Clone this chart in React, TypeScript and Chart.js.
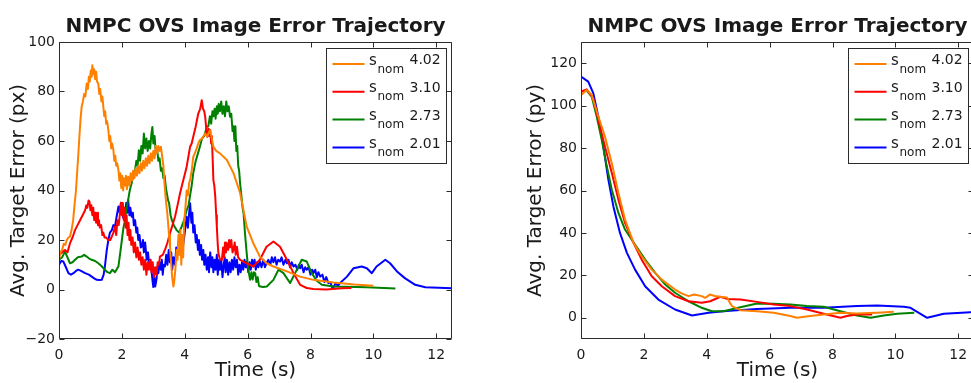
import React, { useEffect, useRef } from "react";
import { Chart, registerables } from "chart.js";

Chart.register(...registerables);

// ---------- tick labels ----------
const xTicks = [0, 2, 4, 6, 8, 10, 12];
const pxYTicks = [-20, 0, 20, 40, 60, 80, 100];
const pyYTicks = [0, 20, 40, 60, 80, 100, 120];

// ---------- legend ----------
const legendValues = ["4.02", "3.10", "2.73", "2.01"];
const seriesColors = ["#ff8000", "#ff0000", "#008000", "#0000ff"];

// ---------- left panel: error in px ----------
const pxOrangeT = [0, 0.05, 0.1, 0.15, 0.2, 0.25, 0.3, 0.35, 0.4, 0.45, 0.5, 0.54, 0.58, 0.61, 0.65, 0.68, 0.72, 0.76, 0.8, 0.84, 0.88, 0.92, 0.95, 0.98, 1.01, 1.04, 1.06, 1.09, 1.12, 1.15, 1.18, 1.21, 1.25, 1.28, 1.31, 1.35, 1.38, 1.41, 1.44, 1.47, 1.5, 1.53, 1.57, 1.6, 1.63, 1.66, 1.69, 1.73, 1.76, 1.79, 1.82, 1.85, 1.89, 1.92, 1.95, 1.98, 2.01, 2.04, 2.07, 2.1, 2.13, 2.16, 2.2, 2.24, 2.28, 2.32, 2.36, 2.4, 2.44, 2.48, 2.52, 2.56, 2.6, 2.64, 2.68, 2.72, 2.76, 2.8, 2.84, 2.88, 2.92, 2.96, 3.0, 3.04, 3.08, 3.12, 3.16, 3.2, 3.24, 3.28, 3.32, 3.36, 3.4, 3.45, 3.5, 3.53, 3.57, 3.6, 3.64, 3.67, 3.7, 3.74, 3.77, 3.8, 3.83, 3.86, 3.89, 3.92, 3.95, 3.98, 4.02, 4.06, 4.1, 4.14, 4.18, 4.22, 4.27, 4.32, 4.38, 4.43, 4.48, 4.55, 4.65, 4.72, 4.8, 4.86, 4.91, 5.0, 5.12, 5.34, 5.55, 5.76, 5.97, 6.18, 6.39, 6.6, 6.82, 7.25, 7.67, 8.09, 8.73, 9.4, 10.0];
const pxOrangeV = [12, 15, 16, 18.5, 18, 20, 21, 21.4, 24, 28, 35, 40, 48, 53.6, 62, 68, 73.8, 76, 79, 78, 83.2, 81, 86, 84, 88.5, 86, 90.6, 87, 89, 85, 88, 84, 83.3, 79, 81, 76, 78, 73.8, 70, 72, 67, 68, 64.4, 60, 62, 57, 59, 56.3, 52, 54, 50, 51, 48.3, 44, 47, 41, 46, 40, 45, 42, 46, 40.5, 45.6, 42, 47, 44, 48, 45, 49, 46, 50, 47, 51, 48, 52, 49, 53, 50, 54, 51, 55, 52, 56, 53, 58, 55, 58, 56, 57.7, 54, 50, 42, 36, 30, 22, 17.3, 10, 5, 1.2, 4, 8, 16, 12, 22, 14, 24, 10, 22, 13, 27, 33, 40, 38, 43, 45, 48, 53.6, 55, 57, 59, 60.4, 61, 63, 62, 64.4, 61, 57.7, 56, 55, 52.3, 47, 39, 25.4, 18.7, 13.3, 10.6, 9.3, 7.3, 5.2, 3.9, 2.8, 2.0, 1.5];

const pxRedT = [0, 0.1, 0.19, 0.27, 0.35, 0.43, 0.51, 0.59, 0.67, 0.75, 0.83, 0.87, 0.9, 0.94, 0.97, 1.0, 1.03, 1.06, 1.09, 1.12, 1.15, 1.18, 1.21, 1.24, 1.27, 1.3, 1.34, 1.38, 1.41, 1.45, 1.5, 1.57, 1.63, 1.68, 1.73, 1.78, 1.82, 1.86, 1.9, 1.94, 1.97, 2.0, 2.03, 2.06, 2.09, 2.12, 2.15, 2.18, 2.21, 2.24, 2.27, 2.3, 2.34, 2.38, 2.42, 2.46, 2.5, 2.54, 2.58, 2.62, 2.66, 2.7, 2.74, 2.78, 2.82, 2.86, 2.9, 2.94, 2.98, 3.02, 3.06, 3.1, 3.14, 3.18, 3.21, 3.3, 3.37, 3.45, 3.53, 3.61, 3.69, 3.77, 3.85, 3.93, 4.01, 4.06, 4.12, 4.17, 4.22, 4.27, 4.35, 4.43, 4.49, 4.54, 4.58, 4.62, 4.65, 4.69, 4.72, 4.76, 4.79, 4.81, 4.84, 4.86, 4.89, 4.91, 4.94, 4.97, 5.0, 5.02, 5.05, 5.07, 5.12, 5.18, 5.22, 5.25, 5.28, 5.31, 5.34, 5.38, 5.41, 5.44, 5.48, 5.52, 5.55, 5.59, 5.62, 5.66, 5.7, 5.76, 5.97, 6.18, 6.39, 6.6, 6.82, 7.03, 7.25, 7.46, 7.67, 7.88, 8.09, 8.5, 9.0, 9.3];
const pxRedV = [14, 15, 16, 15, 18.7, 21, 24, 26, 28, 30, 32, 34, 33, 36, 35.5, 32, 34, 30, 33, 28, 31, 27, 31, 26, 28, 25, 26, 22, 23, 21, 21, 20, 20, 21.4, 23, 25.4, 22, 28, 26, 31, 35, 30, 35, 28, 33, 25, 30, 22, 27, 20, 24, 18, 21, 15, 19, 13, 17, 12, 15, 10, 13, 8, 12, 6, 11, 8, 12, 7, 11, 5, 9, 6, 11, 10, 13.3, 14, 16, 19, 22.7, 26, 29.4, 34, 38.9, 43, 47, 49.6, 54, 57.7, 59, 61.7, 66, 71.1, 73, 76.5, 73, 72, 69.8, 64, 61.7, 65, 62, 64.4, 59, 62, 52, 44.2, 42, 37.5, 30, 25.4, 18, 14.7, 12, 12, 17, 13, 19, 15, 18.7, 16, 20, 17, 20, 15, 16, 19, 14, 17.3, 13, 12, 10.6, 9.3, 12, 17.3, 19.4, 17.3, 12, 6.6, 1.9, 0.6, 0.2, 0.0, 0.5, 0.6];

const pxGreenT = [0, 0.1, 0.19, 0.27, 0.35, 0.43, 0.51, 0.6, 0.72, 0.8, 0.88, 0.96, 1.04, 1.15, 1.25, 1.35, 1.46, 1.54, 1.62, 1.7, 1.78, 1.85, 1.89, 1.95, 2.0, 2.05, 2.1, 2.15, 2.2, 2.25, 2.31, 2.36, 2.42, 2.46, 2.5, 2.54, 2.58, 2.62, 2.66, 2.7, 2.74, 2.78, 2.82, 2.86, 2.9, 2.94, 2.97, 3.0, 3.04, 3.08, 3.12, 3.16, 3.2, 3.24, 3.28, 3.32, 3.36, 3.4, 3.43, 3.47, 3.5, 3.55, 3.59, 3.65, 3.74, 3.82, 3.9, 3.98, 4.06, 4.12, 4.17, 4.22, 4.27, 4.35, 4.42, 4.48, 4.55, 4.62, 4.7, 4.75, 4.8, 4.84, 4.88, 4.91, 4.95, 4.98, 5.02, 5.05, 5.08, 5.12, 5.16, 5.2, 5.24, 5.28, 5.32, 5.36, 5.4, 5.44, 5.48, 5.52, 5.55, 5.58, 5.61, 5.64, 5.67, 5.7, 5.73, 5.76, 5.8, 5.84, 5.87, 5.92, 5.97, 6.02, 6.08, 6.12, 6.16, 6.2, 6.24, 6.28, 6.32, 6.36, 6.4, 6.5, 6.61, 6.82, 6.98, 7.14, 7.35, 7.51, 7.72, 7.88, 8.04, 8.2, 8.36, 8.73, 9.79, 10.7];
const pxGreenV = [12, 13, 15.3, 13, 10.6, 11, 12, 13, 13.3, 14, 13.3, 12.5, 12, 11.5, 10.6, 9.5, 8, 7, 6.6, 8, 7, 8.5, 9.3, 15, 20, 25, 28, 33, 36.2, 40, 42.9, 46, 48.3, 52, 50, 56.3, 52, 58, 55, 63, 57, 61, 56, 60, 57, 63, 65.7, 59, 62, 55, 57, 52, 53, 48, 49, 45, 46, 41, 38.9, 36, 35, 30, 28, 26, 24, 23, 25.4, 28, 32, 34, 38, 42, 47, 52, 55, 57.7, 61, 62, 65.7, 66, 70, 67, 72, 70, 73, 69, 74, 71, 75, 72, 76, 71, 74, 70, 76, 72, 74, 69.8, 71, 64, 66, 60, 66, 56, 58, 50, 48, 42.9, 38, 33, 30.8, 22, 14.7, 8, 3.9, 7, 4, 7, 6.6, 3, 5, 1.5, 1.2, 1, 1.2, 3.9, 8, 6.6, 2.6, 6.6, 12, 11.3, 6.6, 3.5, 1.9, 1.2, 0.9, 0.4];

const pxBlueT = [0, 0.07, 0.14, 0.22, 0.3, 0.38, 0.46, 0.54, 0.61, 0.7, 0.83, 0.95, 1.04, 1.12, 1.2, 1.28, 1.36, 1.42, 1.46, 1.52, 1.57, 1.62, 1.68, 1.73, 1.78, 1.84, 1.89, 1.93, 1.97, 2.0, 2.04, 2.07, 2.1, 2.14, 2.17, 2.2, 2.24, 2.27, 2.31, 2.35, 2.38, 2.42, 2.46, 2.49, 2.52, 2.56, 2.6, 2.63, 2.67, 2.7, 2.74, 2.79, 2.83, 2.87, 2.91, 2.95, 2.98, 3.0, 3.03, 3.06, 3.1, 3.13, 3.16, 3.2, 3.24, 3.27, 3.3, 3.33, 3.37, 3.41, 3.45, 3.49, 3.53, 3.57, 3.6, 3.64, 3.69, 3.73, 3.77, 3.81, 3.85, 3.9, 3.95, 4.01, 4.06, 4.1, 4.14, 4.17, 4.21, 4.24, 4.27, 4.31, 4.35, 4.38, 4.42, 4.45, 4.48, 4.52, 4.55, 4.59, 4.62, 4.66, 4.7, 4.74, 4.77, 4.81, 4.85, 4.88, 4.91, 4.95, 4.98, 5.02, 5.05, 5.09, 5.12, 5.16, 5.2, 5.23, 5.27, 5.3, 5.34, 5.38, 5.42, 5.46, 5.5, 5.54, 5.58, 5.62, 5.66, 5.7, 5.74, 5.78, 5.82, 5.86, 5.9, 5.94, 5.97, 6.02, 6.06, 6.1, 6.14, 6.18, 6.22, 6.26, 6.3, 6.34, 6.39, 6.44, 6.5, 6.55, 6.6, 6.66, 6.72, 6.77, 6.82, 6.87, 6.92, 6.97, 7.03, 7.08, 7.14, 7.2, 7.25, 7.3, 7.35, 7.4, 7.46, 7.52, 7.58, 7.63, 7.67, 7.72, 7.78, 7.83, 7.88, 7.94, 8.0, 8.05, 8.09, 8.15, 8.2, 8.25, 8.31, 8.38, 8.44, 8.5, 8.57, 8.63, 8.68, 8.73, 8.8, 8.87, 8.94, 9.16, 9.37, 9.63, 9.79, 9.95, 10.1, 10.38, 10.53, 10.75, 11.0, 11.33, 11.65, 12.5];
const pxBlueV = [10, 11.5, 11.3, 9, 6.6, 6, 6.6, 7.5, 8, 7.5, 6.6, 6, 5.2, 4.5, 3.9, 3.8, 3.9, 6, 9.3, 16, 20, 23, 24, 26, 25.4, 30, 33.5, 31, 35, 34.8, 29, 33, 30.8, 35, 31, 36.2, 30, 33, 29.4, 31, 26, 28, 23, 25, 20, 22, 17, 17.3, 20, 15, 19, 12, 15, 10, 12, 6.6, 3, 1, 5, 1.2, 4, 9, 6.6, 11, 8, 12, 6, 10, 9.3, 14, 10, 16, 11, 15, 8, 13, 10, 17, 14, 20, 16, 22, 18, 24, 29.4, 25, 31, 34.8, 27, 31, 23, 26, 19, 22, 16, 20, 14, 18, 12, 16, 10, 14, 8, 13, 7, 15, 9, 13, 7, 12, 8, 14, 6, 12, 8, 12, 5, 9, 13, 7, 12, 6, 11, 7, 12, 8, 13, 9, 12, 6, 10, 7, 11, 8, 12, 9, 11.3, 7, 11, 8, 12, 9.3, 12, 8, 11, 9, 11.3, 9, 12, 9, 10.6, 12, 10, 13, 11, 13, 10, 12, 11.3, 13, 10, 12, 10.6, 12, 9, 11, 9.3, 10, 8, 10, 8.6, 10, 7, 9, 8, 9, 6, 8, 6.6, 8, 5, 7, 5.2, 6, 3, 5, 2.6, 3, 1, 0.9, 2.5, 1.5, 2.6, 5.2, 8.6, 9.3, 8.6, 6.6, 9.3, 12, 10.6, 7.3, 4.6, 1.9, 0.9, 0.5];

// ---------- right panel: error in py ----------
const pyOrangeT = [0, 0.18, 0.34, 0.55, 0.76, 0.98, 1.19, 1.4, 1.67, 1.93, 2.25, 2.57, 2.99, 3.2, 3.42, 3.6, 3.84, 3.95, 4.11, 4.25, 4.43, 4.64, 4.8, 5.07, 5.6, 6.13, 6.66, 6.87, 7.29, 7.72, 8.25, 8.78, 9.42, 9.95];
const pyOrangeV = [105, 107.4, 105.1, 94.9, 85.5, 72.9, 58.8, 46.3, 35.3, 29, 22.7, 18, 13.3, 11.5, 10.2, 11, 10.2, 9.4, 11, 10.3, 9.9, 9.6, 5.5, 3.6, 3.1, 2.4, 0.8, 0, 0.8, 1.6, 2.4, 2.0, 2.4, 2.8];

const pyRedT = [0, 0.18, 0.39, 0.55, 0.76, 0.98, 1.19, 1.4, 1.67, 1.93, 2.25, 2.57, 2.99, 3.42, 3.84, 4.11, 4.43, 4.64, 5.07, 5.6, 6.13, 6.66, 7.19, 7.72, 8.25, 8.46, 8.78, 9.26];
const pyRedV = [106.6, 107.7, 103.5, 93.3, 80.8, 68.2, 55.7, 44.7, 35.3, 27.4, 19.6, 14.9, 10.2, 7.8, 7.1, 7.8, 9.9, 8.9, 8.6, 7.5, 6.3, 5.5, 3.9, 1.9, 0, 0.8, 1.6, 1.6];

const pyGreenT = [0, 0.18, 0.34, 0.5, 0.66, 0.82, 0.98, 1.19, 1.4, 1.61, 1.83, 2.04, 2.36, 2.68, 2.99, 3.42, 3.84, 4.16, 4.53, 5.07, 5.6, 6.13, 6.66, 7.19, 7.72, 8.25, 8.78, 9.21, 9.63, 10.06, 10.6];
const pyGreenV = [106.6, 107.1, 104.3, 94.9, 83.9, 71.4, 60.4, 49.4, 41.6, 36.9, 32.1, 27.4, 21.2, 15.7, 11.8, 7.8, 4.7, 3.1, 3.1, 5.0, 6.7, 6.6, 6.3, 5.5, 5.2, 3.1, 1.1, 0, 1.1, 1.9, 2.4];

const pyBlueT = [0, 0.23, 0.39, 0.55, 0.71, 0.87, 1.03, 1.24, 1.46, 1.72, 2.04, 2.46, 2.99, 3.53, 4.06, 4.53, 5.6, 6.66, 7.72, 8.78, 9.42, 10.27, 10.48, 11.01, 11.54, 12.39, 12.6];
const pyBlueV = [113.7, 111.3, 105.9, 94.9, 80.8, 65.1, 52.5, 40, 30.6, 22.7, 14.9, 8.6, 3.9, 1.1, 2.4, 3.1, 4.2, 4.7, 4.7, 5.5, 5.8, 5.2, 4.7, 0, 1.9, 2.6, 2.8];

const FONT = "DejaVu Sans";
const TEXT = "#1a1a1a";
const AXIS = "#2b2b2b";

const toPoints = (t: number[], v: number[]) => t.map((x, i) => ({ x, y: v[i] }));

const matlabPlugin = {
  id: "matlabAxes",
  afterDatasetsDraw(chart: any) {
    const { ctx, chartArea: a, scales } = chart;
    const x = scales.x;
    const y = scales.y;
    ctx.save();
    ctx.strokeStyle = AXIS;
    ctx.lineWidth = 1;
    const L = Math.round(a.left) + 0.5;
    const R = Math.round(a.right) - 0.5;
    const T = Math.round(a.top) + 0.5;
    const B = Math.round(a.bottom) - 0.5;
    ctx.beginPath();
    ctx.rect(L, T, R - L, B - T);
    const tl = 5;
    x.ticks.forEach((t: any) => {
      const p = Math.round(x.getPixelForValue(t.value)) + 0.5;
      ctx.moveTo(p, B);
      ctx.lineTo(p, B - tl);
      ctx.moveTo(p, T);
      ctx.lineTo(p, T + tl);
    });
    y.ticks.forEach((t: any) => {
      const p = Math.round(y.getPixelForValue(t.value)) + 0.5;
      ctx.moveTo(L, p);
      ctx.lineTo(L + tl, p);
      ctx.moveTo(R, p);
      ctx.lineTo(R - tl, p);
    });
    ctx.stroke();
    ctx.restore();
  },
  afterDraw(chart: any, _args: any, opts: any) {
    const { ctx, chartArea: a } = chart;
    ctx.save();
    // main title
    ctx.fillStyle = TEXT;
    ctx.font = `bold 20px "${FONT}"`;
    ctx.textAlign = "center";
    ctx.textBaseline = "alphabetic";
    ctx.fillText(opts.title, (a.left + a.right) / 2, 31.5);

    // legend
    const bw = 120;
    const bh = 115;
    const bx = Math.round(a.right - 6 - bw) + 0.5;
    const by = Math.round(a.top + 6) + 0.5;
    ctx.fillStyle = "#ffffff";
    ctx.fillRect(bx, by, bw, bh);
    ctx.strokeStyle = AXIS;
    ctx.lineWidth = 1;
    ctx.strokeRect(bx, by, bw, bh);
    const rows = [15.5, 43.3, 71, 99];
    opts.labels.forEach((lab: string, i: number) => {
      const ry = by + rows[i];
      ctx.strokeStyle = opts.colors[i];
      ctx.lineWidth = 2;
      ctx.beginPath();
      ctx.moveTo(bx + 6, ry);
      ctx.lineTo(bx + 38, ry);
      ctx.stroke();
      ctx.fillStyle = TEXT;
      ctx.textAlign = "left";
      ctx.font = `15px "${FONT}"`;
      ctx.fillText("s", bx + 42.5, ry + 0.5);
      ctx.font = `12px "${FONT}"`;
      ctx.fillText("nom", bx + 51, ry + 8.5);
      ctx.font = `14px "${FONT}"`;
      ctx.fillText(lab, bx + 83, ry);
    });
    ctx.restore();
  },
};

function makeConfig(
  datasets: { t: number[]; v: number[] }[],
  yTicks: number[],
  yMin: number,
  yMax: number,
  yLabel: string,
  yWidth: number,
  rightPad: number,
  yTitlePad: number
): any {
  return {
    type: "line",
    data: {
      datasets: datasets.map((d, i) => ({
        data: toPoints(d.t, d.v),
        borderColor: seriesColors[i],
        borderWidth: 2,
        pointRadius: 0,
        fill: false,
        tension: 0,
        borderJoinStyle: "round",
      })),
    },
    plugins: [matlabPlugin],
    options: {
      animation: false,
      responsive: false,
      devicePixelRatio: 1,
      events: [],
      layout: { padding: { left: 0, top: 42, right: rightPad, bottom: 0 } },
      plugins: {
        legend: { display: false },
        tooltip: { enabled: false },
        title: { display: false },
        matlabAxes: {
          title: "NMPC OVS Image Error Trajectory",
          labels: legendValues,
          colors: seriesColors,
        },
      },
      scales: {
        x: {
          type: "linear",
          min: 0,
          max: 12.5,
          afterBuildTicks: (s: any) => {
            s.ticks = xTicks.map((v) => ({ value: v }));
          },
          afterFit: (s: any) => {
            s.height = 44;
          },
          grid: { display: false, drawTicks: false },
          border: { display: false },
          ticks: {
            padding: 8,
            maxRotation: 0,
            autoSkip: false,
            color: TEXT,
            font: { family: FONT, size: 14 },
          },
          title: {
            display: true,
            text: "Time (s)",
            color: TEXT,
            font: { family: FONT, size: 20 },
            padding: { top: 0, bottom: 0 },
          },
        },
        y: {
          type: "linear",
          min: yMin,
          max: yMax,
          afterBuildTicks: (s: any) => {
            s.ticks = yTicks.map((v) => ({ value: v }));
          },
          afterFit: (s: any) => {
            s.width = yWidth;
          },
          grid: { display: false, drawTicks: false },
          border: { display: false },
          ticks: {
            padding: 4,
            autoSkip: false,
            color: TEXT,
            font: { family: FONT, size: 14 },
            callback: (v: number) => String(v).replace("-", "\u2212"),
          },
          title: {
            display: true,
            text: yLabel,
            color: TEXT,
            font: { family: FONT, size: 20 },
            padding: { top: yTitlePad, bottom: 0 },
          },
        },
      },
    },
  };
}

function Panel(props: { config: any; width: number; left: number }) {
  const ref = useRef<HTMLCanvasElement | null>(null);
  useEffect(() => {
    if (!ref.current) return;
    const chart = new Chart(ref.current, props.config);
    return () => chart.destroy();
  }, []);
  return (
    <canvas
      ref={ref}
      width={props.width}
      height={383}
      style={{ position: "absolute", left: props.left, top: 0, width: props.width, height: 383 }}
    />
  );
}

export default function App() {
  const leftCfg = makeConfig(
    [
      { t: pxOrangeT, v: pxOrangeV },
      { t: pxRedT, v: pxRedV },
      { t: pxGreenT, v: pxGreenV },
      { t: pxBlueT, v: pxBlueV },
    ],
    pxYTicks,
    -20,
    100,
    "Avg. Target Error (px)",
    59,
    33,
    7
  );
  const rightCfg = makeConfig(
    [
      { t: pyOrangeT, v: pyOrangeV },
      { t: pyRedT, v: pyRedV },
      { t: pyGreenT, v: pyGreenV },
      { t: pyBlueT, v: pyBlueV },
    ],
    pyYTicks,
    -10,
    130,
    "Avg. Target Error (py)",
    95,
    12,
    38
  );
  return (
    <div
      style={{
        position: "absolute",
        left: 0,
        top: 0,
        width: 971,
        height: 383,
        overflow: "hidden",
        background: "#ffffff",
      }}
    >
      <Panel config={leftCfg} width={485} left={0} />
      <Panel config={rightCfg} width={500} left={486} />
    </div>
  );
}
